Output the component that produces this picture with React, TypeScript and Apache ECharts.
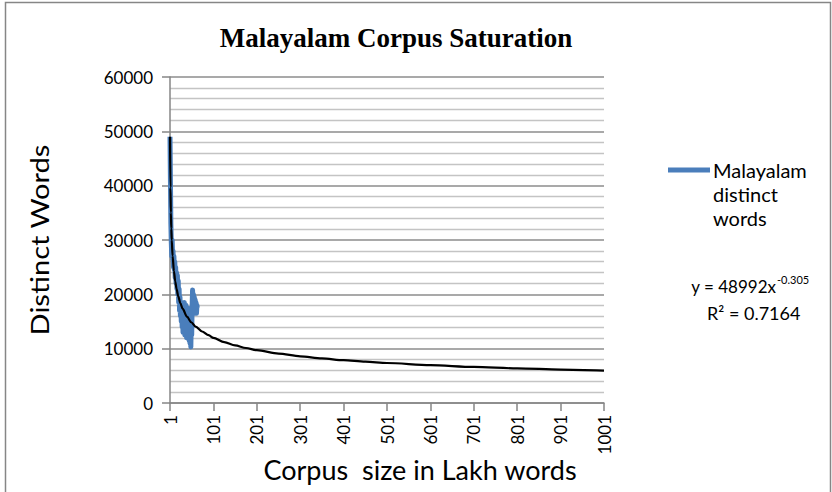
import React, { useEffect, useRef } from "react";
import * as echarts from "echarts";

// Observed series: distinct words per corpus step (x = 1, 2, 3, ...)
const distinctWords = [
  49000, 41000, 33000, 29500, 27000, 30000, 26500, 28000, 25000, 27000,
  24500, 26000, 23000, 25000, 22000, 24000, 21000, 23500, 20000, 22500,
  18500, 21000, 17000, 19500, 16000, 18500, 15000, 17500, 14000, 16500,
  13000, 17500, 13500, 18500, 12500, 17000, 13000, 18000, 12000, 16500,
  13500, 17500, 12000, 16000, 11500, 15500, 11000, 14000, 10300, 15000,
  12500, 18000, 20800, 16500, 20000, 17000, 19500, 16500, 19000, 17000,
  18500, 16500, 18000, 17500,
];

const trendX = [1, 2, 3, 4, 5, 7, 10, 13, 16, 20, 25, 30, 40, 50, 60, 75, 90, 101, 126, 151, 176, 201, 251, 301, 351, 401, 451, 501, 601, 701, 801, 901, 1001];
const trendY = [48992, 39660, 35045, 32110, 29990, 27064, 24272, 22410, 21040, 19646, 18350, 17362, 15904, 14859, 14060, 13160, 12480, 11989, 11200, 10606, 10120, 9720, 9100, 8594, 8200, 7874, 7600, 7358, 6958, 6642, 6375, 6152, 5958];

const yMin = 0;
const yMax = 60000;
const yStep = 10000;
const xMax = 1000;
const xStep = 100;

const chartTitle = "Malayalam Corpus Saturation";
const xTitle = "Corpus  size in Lakh words";
const yTitle = "Distinct Words";
const seriesName = "Malayalam distinct words";
const legendLines = ["Malayalam", "distinct", "words"];
const eqMain = "y = 48992x";
const eqSup = "-0.305";
const eqR2 = "R\u00B2 = 0.7164";

export default function App() {
  const ref = useRef<HTMLDivElement>(null);
  useEffect(() => {
    if (!ref.current) return;
    const chart = echarts.init(ref.current, null, { renderer: "svg" });
    const blue = "#4a7ebb";
    const axisGray = "#868686";
    const sans = "Lato";
    chart.setOption({
      animation: false,
      backgroundColor: "#ffffff",
      grid: { left: 170, right: 228, top: 77, bottom: 89, containLabel: false, outerBoundsMode: "none" },
      xAxis: {
        type: "value",
        min: 0,
        max: xMax,
        interval: xStep,
        axisLine: { show: true, lineStyle: { color: axisGray, width: 1.5 } },
        axisTick: { show: true, length: 8, lineStyle: { color: axisGray, width: 1.5 } },
        splitLine: { show: false },
        axisLabel: {
          rotate: 90,
          margin: 12,
          color: "#000",
          fontFamily: sans,
          fontSize: 17,
          showMinLabel: true,
          showMaxLabel: true,
          formatter: (v: number) => String(v + 1),
        },
      },
      yAxis: {
        type: "value",
        min: yMin,
        max: yMax,
        interval: yStep,
        axisLine: { show: true, lineStyle: { color: axisGray, width: 1.5 } },
        axisTick: { show: true, length: 8, lineStyle: { color: axisGray, width: 1.5 } },
        splitLine: { show: true, lineStyle: { color: "#8c8c8c", width: 1.5 } },
        minorTick: { show: false, splitNumber: 5 },
        minorSplitLine: { show: true, lineStyle: { color: "#c4c4c4", width: 1.3 } },
        axisLabel: {
          margin: 17,
          color: "#000",
          fontFamily: sans,
          fontSize: 17,
          showMinLabel: true,
          showMaxLabel: true,
          formatter: (v: number) => String(v),
        },
      },
      series: [
        {
          name: seriesName,
          type: "line",
          showSymbol: false,
          symbol: "none",
          data: distinctWords.map((v, i) => [i, v]),
          lineStyle: { color: blue, width: 5, join: "round" },
          z: 2,
        },
        {
          name: "Power trendline",
          type: "line",
          showSymbol: false,
          symbol: "none",
          smooth: 0.3,
          smoothMonotone: "x",
          data: trendX.map((x, i) => [x - 1, trendY[i]]),
          lineStyle: { color: "#000", width: 2.2 },
          z: 3,
        },
      ],
      graphic: [
        {
          type: "rect",
          shape: { x: 5.5, y: 2.5, width: 825, height: 520 },
          style: { fill: "none", stroke: "#868686", lineWidth: 1.5 },
          silent: true,
        },
        {
          type: "text",
          x: 396,
          y: 38,
          style: {
            text: chartTitle,
            font: 'bold 27px "Liberation Serif"',
            fill: "#000",
            align: "center",
            verticalAlign: "middle",
          },
        },
        {
          type: "text",
          x: 420,
          y: 469,
          style: {
            text: xTitle,
            font: `27px ${sans}`,
            fill: "#000",
            align: "center",
            verticalAlign: "middle",
          },
        },
        {
          type: "text",
          x: 39,
          y: 240,
          rotation: Math.PI / 2,
          scaleX: 1.12,
          style: {
            text: yTitle,
            font: `26px ${sans}`,
            fill: "#000",
            align: "center",
            verticalAlign: "middle",
          },
        },
        {
          type: "line",
          shape: { x1: 668, y1: 170, x2: 710, y2: 170 },
          style: { stroke: blue, lineWidth: 5 },
        },
        ...legendLines.map((t, i) => ({
          type: "text",
          x: 713,
          y: 170 + i * 24,
          style: {
            text: t,
            font: `20px ${sans}`,
            fill: "#000",
            align: "left",
            verticalAlign: "middle",
          },
        })),
        {
          type: "text",
          x: 776,
          y: 286,
          style: { text: eqMain, font: `17px ${sans}`, fill: "#000", align: "right", verticalAlign: "middle" },
        },
        {
          type: "text",
          x: 777,
          y: 279,
          style: { text: eqSup, font: `11px ${sans}`, fill: "#000", align: "left", verticalAlign: "middle" },
        },
        {
          type: "text",
          x: 707,
          y: 313,
          style: { text: eqR2, font: `18px ${sans}`, fill: "#000", align: "left", verticalAlign: "middle" },
        },
      ],
    });
    return () => chart.dispose();
  }, []);
  return (
    <div
      ref={ref}
      style={{ position: "fixed", left: 0, top: 0, width: 832, height: 492 }}
    />
  );
}
